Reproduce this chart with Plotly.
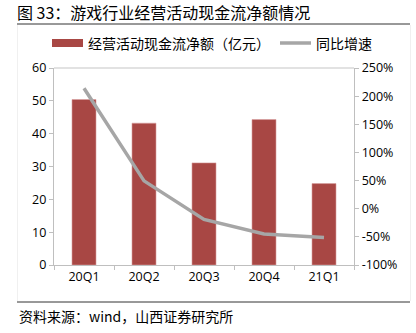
import plotly.graph_objects as go

categories = ["20Q1", "20Q2", "20Q3", "20Q4", "21Q1"]
cash_flow = [50.4, 43.2, 31.1, 44.3, 24.8]
yoy_growth = [2.14, 0.495, -0.19, -0.45, -0.51]
left_ticks = [0, 10, 20, 30, 40, 50, 60]
right_ticks = [-1.0, -0.5, 0, 0.5, 1.0, 1.5, 2.0, 2.5]
right_labels = ["-100%", "-50%", "0%", "50%", "100%", "150%", "200%", "250%"]

bar_color = "#A84744"
line_color = "#A6A6A6"
axis_color = "#BFBFBF"
cjk = "Noto Sans CJK SC"
tick_font = dict(family="Open Sans, Liberation Sans", size=12.5, color="#000000")

fig = go.Figure()
fig.add_trace(go.Bar(x=categories, y=cash_flow, name="经营活动现金流净额（亿元）",
                     marker=dict(color=bar_color, line=dict(color="#D8A0A0", width=0.6)),
                     width=0.4, yaxis="y"))
fig.add_trace(go.Scatter(x=categories, y=yoy_growth, name="同比增速", mode="lines",
                         line=dict(color=line_color, width=3.5), yaxis="y2"))

fig.update_layout(
    width=416, height=333,
    margin=dict(l=54, r=62, t=68, b=68),
    paper_bgcolor="white", plot_bgcolor="white",
    showlegend=False,
    title=dict(text="图 33：游戏行业经营活动现金流净额情况", xref="container", yref="container",
               x=17/416, y=1 - 13/333, xanchor="left", yanchor="middle",
               font=dict(family=cjk, size=16, color="#000000")),
    xaxis=dict(showline=True, linecolor=axis_color, linewidth=1.3, ticks="outside",
               tickson="boundaries", ticklen=4, tickcolor=axis_color,
               tickfont=tick_font, showgrid=False, range=[-0.5, 4.5]),
    yaxis=dict(range=[0, 60], tickvals=left_ticks, showline=True, linecolor=axis_color,
               linewidth=1.3, ticks="outside", ticklen=4, tickcolor=axis_color,
               tickfont=tick_font, showgrid=False, zeroline=False),
    yaxis2=dict(range=[-1.0, 2.5], tickvals=right_ticks, ticktext=right_labels,
                overlaying="y", side="right", showline=True, linecolor=axis_color,
                linewidth=1.3, ticks="outside", ticklen=4, tickcolor=axis_color,
                tickfont=tick_font, showgrid=False, zeroline=False),
)

def px(x):
    return (x - 54) / 300

def py(y):
    return (265 - y) / 197

# top border of plot area
fig.add_shape(type="line", xref="paper", yref="paper", x0=0, x1=1, y0=1, y1=1,
              line=dict(color="#D9D9D9", width=1.3))

# faint chart-area side borders
for bx in (17.5, 410.5):
    fig.add_shape(type="line", xref="paper", yref="paper", x0=px(bx), x1=px(bx),
                  y0=py(25), y1=py(301), line=dict(color="#F0F0F0", width=1))

# rules
fig.add_shape(type="line", xref="paper", yref="paper", x0=px(17), x1=px(410),
              y0=py(24), y1=py(24), line=dict(color="#333333", width=1))
fig.add_shape(type="line", xref="paper", yref="paper", x0=px(17), x1=px(410),
              y0=py(302), y1=py(302), line=dict(color="#333333", width=1))
fig.add_annotation(text="资料来源：wind，山西证券研究所", xref="paper", yref="paper",
                   x=px(17), y=py(316), xanchor="left", yanchor="middle",
                   showarrow=False, font=dict(family=cjk, size=14, color="#000000"))

# legend
ly = py(43)
fig.add_shape(type="rect", xref="paper", yref="paper", x0=px(52), x1=px(83),
              y0=ly - 4/197, y1=ly + 4/197, fillcolor=bar_color, line=dict(width=0))
fig.add_annotation(text="经营活动现金流净额（亿元）", xref="paper", yref="paper",
                   x=px(86), y=ly, xanchor="left", yanchor="middle", showarrow=False,
                   font=dict(family=cjk, size=14, color="#000000"))
fig.add_shape(type="line", xref="paper", yref="paper", x0=px(280), x1=px(311),
              y0=ly, y1=ly, line=dict(color=line_color, width=3.5))
fig.add_annotation(text="同比增速", xref="paper", yref="paper",
                   x=px(314), y=ly, xanchor="left", yanchor="middle", showarrow=False,
                   font=dict(family=cjk, size=14, color="#000000"))

fig.write_html("out.html")
